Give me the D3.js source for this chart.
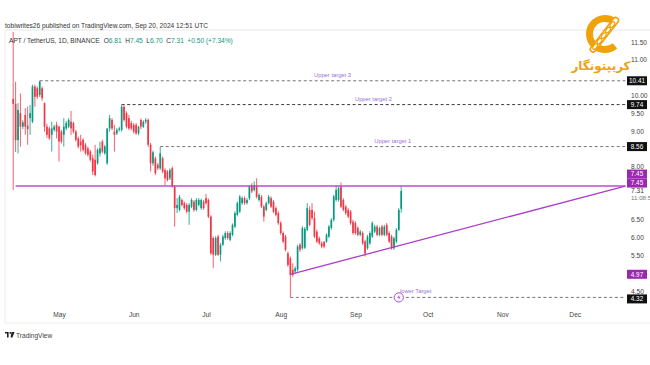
<!DOCTYPE html>
<html><head><meta charset="utf-8">
<script src="https://cdn.jsdelivr.net/npm/d3@7"></script>
<style>body{margin:0;background:#fff;}svg{display:block;font-family:"Liberation Sans",Arial,sans-serif}</style>
</head><body><svg id="c" width="650" height="365"></svg>
<script>
// ---------- DATA ----------
const startDate = "2024-04-12";
const opens = [9.90,9.76,8.74,9.50,9.12,9.45,9.15,9.36,9.26,10.25,10.20,10.01,10.20,9.78,9.12,9.07,8.89,9.03,9.17,9.12,8.98,8.89,9.07,9.12,9.26,9.22,8.98,8.79,8.70,8.75,8.61,8.51,8.42,8.23,8.19,8.09,8.37,8.70,8.37,8.09,9.07,9.31,8.98,8.93,9.03,9.03,9.68,9.50,9.36,9.22,9.17,9.17,8.93,9.31,9.12,9.26,9.31,8.61,8.09,8.23,8.05,7.95,8.23,7.90,7.86,7.67,7.95,7.44,6.83,6.78,7.06,6.97,6.92,6.73,6.87,7.01,6.78,6.92,6.83,7.01,7.11,7.06,6.59,5.99,5.52,6.03,5.52,5.80,5.99,6.13,5.94,6.08,6.31,6.64,6.73,6.97,7.11,6.97,7.11,7.48,7.34,7.48,7.06,7.15,6.87,6.78,6.97,7.11,7.01,6.83,6.69,6.41,6.13,6.03,5.56,5.42,5.10,5.05,5.10,5.80,5.70,5.72,6.22,6.78,6.78,6.55,6.17,5.98,5.84,5.89,5.89,6.03,6.27,6.50,7.06,7.06,7.44,7.06,6.87,6.78,6.73,6.45,6.41,6.27,6.08,6.13,5.89,5.70,5.84,6.03,6.17,6.31,6.08,6.31,6.08,6.36,6.13,6.03,5.70,5.89,6.22,6.81];
const highs = [11.78,10.38,9.78,10.05,9.30,9.64,9.68,9.73,10.30,10.30,10.25,10.41,10.25,9.80,9.20,9.12,9.26,9.17,9.26,9.14,9.03,9.36,9.28,9.36,9.56,9.26,9.03,8.84,8.89,8.79,8.66,8.56,8.47,8.33,8.61,8.51,8.70,8.75,8.61,9.07,9.45,9.36,9.17,9.08,9.12,9.74,9.72,9.55,9.45,9.28,9.22,9.22,9.14,9.35,9.30,9.36,9.35,8.66,8.45,8.28,8.10,8.56,8.28,7.95,7.90,7.95,8.00,7.48,7.11,7.20,7.10,7.02,6.97,6.97,7.11,7.06,7.11,7.11,7.10,7.06,7.23,7.10,6.63,6.03,6.04,6.08,5.85,6.08,6.18,6.18,6.18,6.40,6.74,7.02,7.20,7.16,7.16,7.11,7.48,7.53,7.58,7.67,7.25,7.20,6.92,7.01,7.20,7.16,7.06,6.88,6.74,6.46,6.18,6.08,5.61,5.47,5.28,5.19,5.80,5.85,6.32,6.30,6.97,6.88,6.97,6.73,6.22,6.03,5.89,5.89,6.12,6.36,6.55,7.20,7.48,7.44,7.55,7.11,6.92,6.83,6.78,6.50,6.46,6.32,6.22,6.18,5.94,6.08,6.18,6.46,6.36,6.36,6.31,6.36,6.36,6.41,6.18,6.08,6.03,6.27,6.83,7.45];
const lows = [7.34,8.41,8.37,8.56,9.05,8.89,8.61,8.89,9.22,9.68,9.90,9.95,9.85,8.98,8.80,8.75,8.42,8.98,8.79,8.14,8.65,8.56,9.02,9.08,8.89,8.93,8.70,8.51,8.42,8.42,8.33,8.28,8.14,7.76,7.72,8.05,8.28,8.37,8.33,8.05,8.98,9.02,8.42,8.88,8.98,8.98,9.26,9.07,9.02,9.02,8.93,8.89,8.88,9.05,9.08,9.20,8.55,7.86,8.02,7.76,7.90,7.90,7.81,7.48,7.58,7.62,7.40,6.31,6.69,6.74,6.88,6.78,6.68,6.36,6.83,6.73,6.74,6.88,6.78,6.78,6.93,6.55,5.52,5.14,5.48,5.48,5.33,5.76,5.94,5.94,5.90,6.04,6.27,6.60,6.69,6.92,6.92,6.93,7.06,7.25,7.30,7.10,7.01,6.83,6.45,6.74,6.93,6.83,6.69,6.60,6.36,6.08,5.85,5.62,5.18,4.32,4.90,5.00,5.05,5.60,5.66,5.68,6.18,6.32,6.50,5.99,5.85,5.80,5.70,5.70,5.85,5.99,6.22,6.45,7.01,7.01,6.83,6.74,6.64,6.55,6.36,6.08,6.08,6.04,6.04,5.80,5.47,5.66,5.80,5.99,6.13,6.04,6.04,6.04,6.04,6.04,5.85,5.66,5.66,5.85,6.18,6.70];
const closes = [9.76,8.74,9.59,9.12,9.24,9.12,9.05,9.50,10.25,9.96,9.96,10.39,9.92,9.12,8.89,8.79,9.07,9.12,8.98,8.70,8.70,9.12,9.22,9.31,9.07,8.98,8.75,8.56,8.60,8.47,8.37,8.33,8.19,7.86,7.76,8.47,8.51,8.42,8.56,9.07,9.36,9.07,8.89,9.03,9.07,9.68,9.31,9.12,9.07,9.07,8.98,8.93,9.12,9.12,9.26,9.31,8.61,8.09,8.40,7.81,7.95,8.37,7.86,7.67,7.62,7.90,7.44,6.83,6.92,7.15,6.92,6.83,6.73,6.92,7.06,6.78,7.06,7.06,7.06,6.83,6.97,6.59,5.56,5.52,5.99,5.52,5.80,6.03,6.13,5.99,6.13,6.36,6.69,6.97,7.15,7.11,6.97,7.06,7.44,7.30,7.48,7.15,7.20,6.87,6.59,6.97,7.15,6.87,6.73,6.64,6.41,6.13,5.89,5.66,5.23,4.95,4.95,5.14,5.75,5.66,6.27,6.25,6.83,6.36,6.55,6.03,5.89,5.84,5.75,5.75,6.08,6.31,6.50,7.16,7.34,7.39,6.87,6.78,6.69,6.59,6.41,6.13,6.13,6.08,6.17,5.84,5.56,6.03,6.13,6.41,6.31,6.08,6.27,6.08,6.31,6.08,5.89,5.70,5.98,6.22,6.78,7.31];

// visible price-scale labels (others are hidden behind price boxes in the reference)
const priceTicks = [11.5,11,10,9.5,9,8,6.5,6,5.5,4.5];
const monthTicks = ["2024-05-01","2024-06-01","2024-07-01","2024-08-01","2024-09-01","2024-10-01","2024-11-01","2024-12-01"];

const targetNames = ["Upper target 3","Upper target 2","Upper target 1","lower Target"];
const targetValues = [10.41, 9.74, 8.56, 4.32];
const targetStarts = ["2024-04-23","2024-05-27","2024-06-12","2024-08-05"];
const targetStyles = ["#666","#222","#666","#666"];
const lineEndDate = "2024-12-22";

const resistanceValue = 7.45;
const resistanceStart = "2024-04-13";
const trendDates = ["2024-08-05","2024-12-22"];
const trendValues = [4.97, 7.45];

const boxValues = [10.41, 9.74, 8.56, 7.45, 7.45, 4.97, 4.32];
const boxKinds  = ["target","target","target","level","level","level","target"];

const lastClose = 7.31;
const countdown = "11:08:5";
const headerLine1 = "tobiwrites26 published on TradingView.com, Sep 20, 2024 12:51 UTC";
const symbolText = "APT / TetherUS, 1D, BINANCE";
const ohlcLabels = ["O","H","L","C"];
const ohlcValues = ["6.81","7.45","6.70","7.31"];
const changeText = "+0.50 (+7.34%)";

// ---------- LAYOUT ----------
const W = 650, H = 365;
const plotL = 5, plotT = 30, plotB = 323, axisX = 631;
const UP = "#089981", DOWN = "#f23645", PURPLE = "#9c27b0";
const parse = d3.utcParse("%Y-%m-%d");
const svg = d3.select("#c");

const t0 = parse(startDate);
const candles = opens.map((o,i)=>({date:d3.utcDay.offset(t0,i),o,h:highs[i],l:lows[i],c:closes[i]}));

const x = d3.scaleUtc().domain([t0, parse("2024-12-31")]).range([13.2, 13.2 + 263*2.41]);
const y = d3.scaleLinear().domain([4.5, 11.5]).range([291, 42]);

// frame
svg.append("rect").attr("width",W).attr("height",H).attr("fill","#fff");
svg.append("line").attr("x1",plotL).attr("x2",W).attr("y1",plotT).attr("y2",plotT).attr("stroke","#e6e6e6");
svg.append("line").attr("x1",plotL).attr("x2",W).attr("y1",plotB).attr("y2",plotB).attr("stroke","#ececec");
svg.append("line").attr("x1",plotL).attr("x2",plotL).attr("y1",plotT).attr("y2",plotB).attr("stroke","#ececec");

// y axis tick labels
const yAxis = d3.axisRight(y).tickValues(priceTicks).tickFormat(d3.format(".2f")).tickSize(0).tickPadding(0);
const ya = svg.append("g").attr("transform",`translate(${axisX},0)`).call(yAxis);
ya.select(".domain").remove();
ya.selectAll("text").attr("fill","#444").attr("font-size","6.6px").attr("font-family","Liberation Sans, Arial");

// x axis
const xAxis = d3.axisBottom(x).tickValues(monthTicks.map(parse)).tickFormat(d3.utcFormat("%b")).tickSize(0).tickPadding(0);
const xa = svg.append("g").attr("transform",`translate(0,312)`).call(xAxis);
xa.select(".domain").remove();
xa.selectAll("text").attr("fill","#444").attr("font-size","6.6px").attr("font-family","Liberation Sans, Arial");

// target lines
targetValues.forEach((v,k)=>{
  const x1 = x(parse(targetStarts[k])), x2 = x(parse(lineEndDate));
  svg.append("line").attr("x1",x1).attr("x2",x2).attr("y1",y(v)).attr("y2",y(v))
    .attr("stroke",targetStyles[k]).attr("stroke-width",0.9).attr("stroke-dasharray","3,2.5");
});
// target labels
targetNames.forEach((n,k)=>{
  const x1 = x(parse(targetStarts[k])), x2 = x(parse(lineEndDate));
  const cx = k===3 ? x(parse("2024-09-26")) : (x1+x2)/2;
  svg.append("text").attr("x",cx).attr("y",y(targetValues[k])-4).attr("text-anchor","middle")
    .attr("font-size","5.8px").attr("fill","#9a6fd6").text(n);
});

// candles
const g = svg.append("g");
g.selectAll("line.w").data(candles).join("line")
  .attr("x1",d=>x(d.date)).attr("x2",d=>x(d.date)).attr("y1",d=>y(d.h)).attr("y2",d=>y(d.l))
  .attr("stroke",d=>d.c>=d.o?UP:DOWN).attr("stroke-width",0.8);
g.selectAll("rect.b").data(candles).join("rect")
  .attr("x",d=>x(d.date)-0.85).attr("width",1.7)
  .attr("y",d=>y(Math.max(d.o,d.c))).attr("height",d=>Math.max(0.8,Math.abs(y(d.o)-y(d.c))))
  .attr("fill",d=>d.c>=d.o?UP:DOWN);

// resistance + trend lines
svg.append("line").attr("x1",x(parse(resistanceStart))).attr("x2",x(parse(lineEndDate)))
  .attr("y1",y(resistanceValue)).attr("y2",y(resistanceValue)).attr("stroke","#c04ad2").attr("stroke-width",1.4);
svg.append("line").attr("x1",x(parse(trendDates[0]))).attr("x2",x(parse(trendDates[1])))
  .attr("y1",y(trendValues[0])).attr("y2",y(trendValues[1])).attr("stroke","#a93fca").attr("stroke-width",1.3);

// event marker on lower target
const ev = svg.append("g").attr("transform",`translate(${x(parse("2024-09-19"))},${y(targetValues[3])})`);
ev.append("circle").attr("r",4.6).attr("fill","#fff").attr("stroke","#a14fd0").attr("stroke-width",1);
ev.append("path").attr("d","M0.8,-3 L-1.6,0.4 L0.2,0.4 L-0.8,3 L1.7,-0.6 L-0.1,-0.6 Z").attr("fill","#a14fd0");

// last price text + countdown
svg.append("text").attr("x",axisX).attr("y",y(lastClose)+2.3).attr("font-size","6.6px").attr("fill","#333").text(lastClose.toFixed(2));
svg.append("text").attr("x",axisX).attr("y",y(lastClose)+9).attr("font-size","6.2px").attr("fill","#777").text(countdown);

// price boxes
const boxOffsets = [0,0,0,-12,-3,0,1.5];
boxValues.forEach((v,k)=>{
  const cy = y(v)+boxOffsets[k];
  svg.append("rect").attr("x",627).attr("y",cy-4.5).attr("width",20).attr("height",9)
    .attr("fill",boxKinds[k]==="target"?"#111":PURPLE);
  svg.append("text").attr("x",637).attr("y",cy+2.3).attr("text-anchor","middle")
    .attr("font-size","6.4px").attr("fill","#fff").text(v.toFixed(2));
});

// header
svg.append("text").attr("x",5).attr("y",27.5).attr("font-size","6.6px").attr("fill","#333").text(headerLine1);
const hdr = svg.append("text").attr("x",9).attr("y",42.5).attr("font-size","6.6px").attr("fill","#333");
hdr.append("tspan").text(symbolText);
ohlcLabels.forEach((l,k)=>{
  hdr.append("tspan").attr("dx",k===0?"4":"3.5").attr("fill","#333").text(l);
  hdr.append("tspan").attr("fill",UP).text(ohlcValues[k]);
});
hdr.append("tspan").attr("dx","3.5").attr("fill",UP).text(changeText);

// footer TradingView
const tv = svg.append("g").attr("transform","translate(5,332)");
tv.append("path").attr("d","M0,0 H3.6 V5.5 H2 V1.6 H0 Z").attr("fill","#222");
tv.append("circle").attr("cx",5.3).attr("cy",0.9).attr("r",0.9).attr("fill","#222");
tv.append("path").attr("d","M6.5,0 H9.6 L7.4,5.5 H5.6 Z").attr("fill","#222");
svg.append("text").attr("x",16).attr("y",337.5).attr("font-size","6.6px").attr("fill","#444").text("TradingView");

// logo
const gold = "#f0a20a";
const lg = svg.append("g").attr("transform","translate(605,34)");
lg.append("path").attr("d", d3.arc().innerRadius(12).outerRadius(19).startAngle(140*Math.PI/180).endAngle(395*Math.PI/180)()).attr("fill",gold);
const chain = lg.append("g").attr("transform","rotate(-52)");
chain.append("rect").attr("x",-22).attr("y",-2.8).attr("width",42).attr("height",5.6).attr("rx",2.5).attr("fill","#fff").attr("stroke",gold).attr("stroke-width",1.6);
[-16,-9,-2,5,12].forEach(cx=>{
  chain.append("ellipse").attr("cx",cx).attr("cy",0).attr("rx",3.2).attr("ry",1.8).attr("fill","none").attr("stroke",gold).attr("stroke-width",1.3);
});
svg.append("text").attr("x",601).attr("y",70).attr("text-anchor","middle").attr("font-size","12px").attr("font-weight","bold")
  .attr("font-family","DejaVu Sans").attr("fill",gold).text("کریپتونگار");
</script></body></html>
